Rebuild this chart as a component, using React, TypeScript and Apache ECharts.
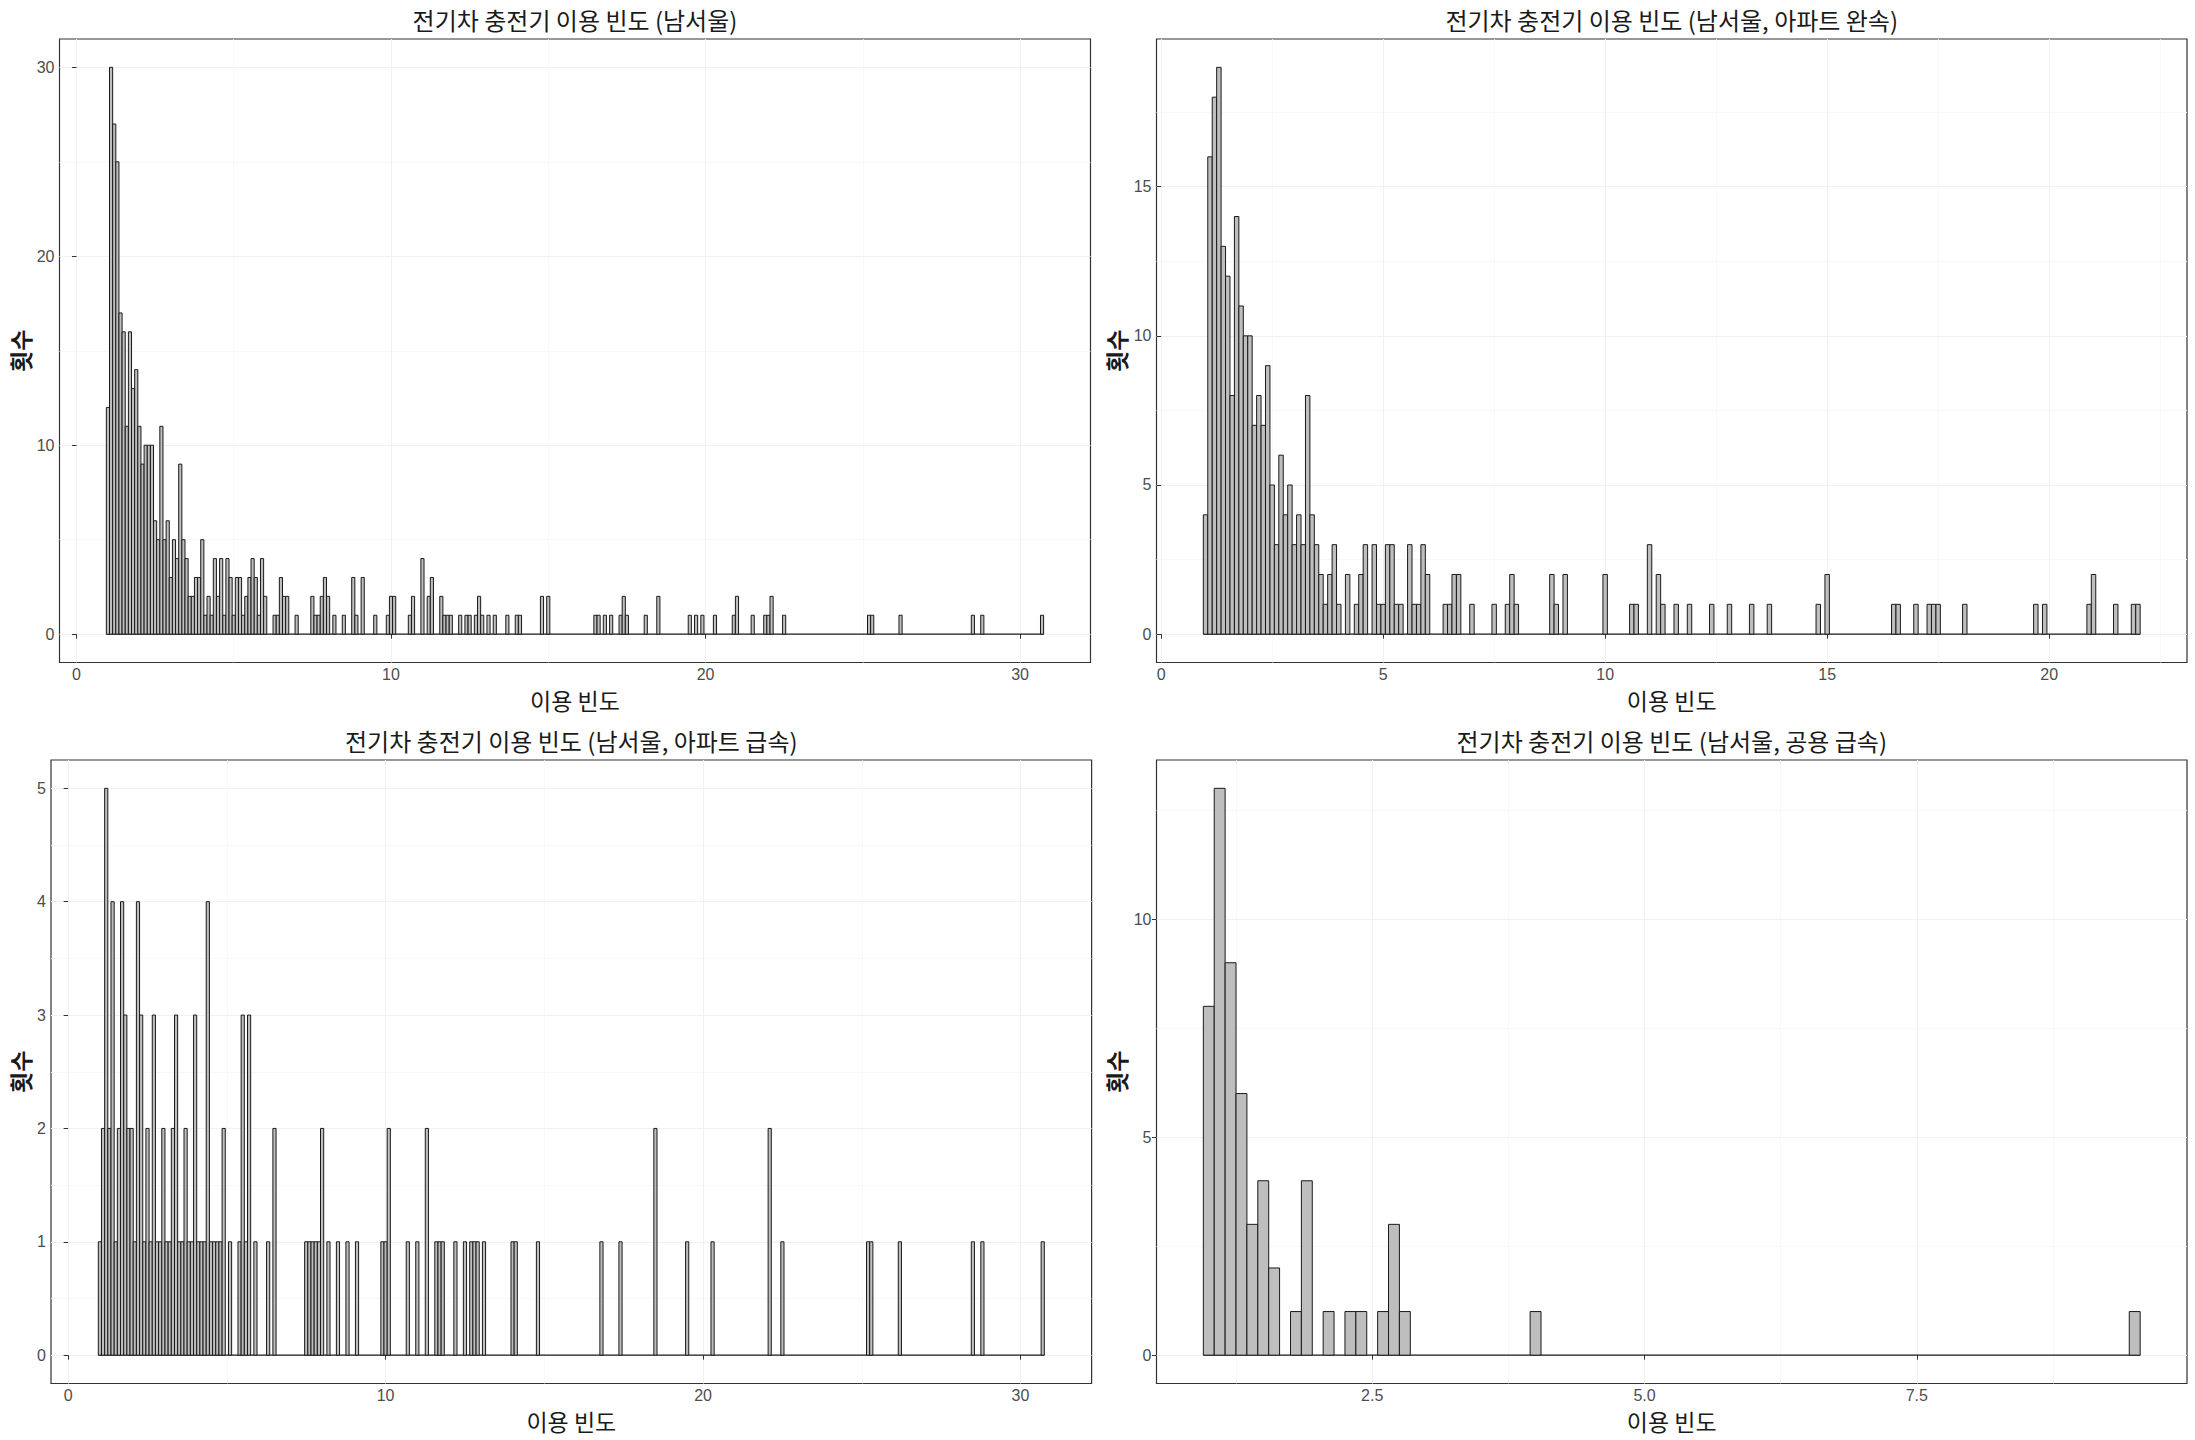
import React, { useEffect, useRef } from "react";
import * as echarts from "echarts";

// ---------- data (histogram counts, bin width 0.1, bins centred on multiples of 0.1) ----------
const BIN_WIDTH = 0.1;
const FIRST_BIN = 1.0;

// 남서울 (all) : consecutive bins from 1.0 to 7.0
const allHeadCounts = [
  12, 30, 27, 25, 17, 16, 11, 16, 13, 14,
  11, 9, 10, 10, 10, 6, 5, 11, 5, 6,
  3, 5, 4, 9, 5, 4, 2, 2, 3, 3,
  5, 1, 2, 1, 4, 2, 4, 1, 4, 3,
  1, 3, 3, 1, 2, 3, 4, 3, 1, 4,
  2, 0, 0, 1, 1, 3, 2, 2, 0, 0,
  1,
];
const allTailBins: [number, number][] = [
  [7.5, 2], [7.6, 1], [7.7, 1], [7.8, 2], [7.9, 3], [8.0, 2], [8.2, 1], [8.5, 1],
  [8.8, 3], [8.9, 1], [9.1, 3], [9.5, 1], [9.9, 1], [10.0, 2], [10.1, 2], [10.6, 1],
  [10.7, 2], [11.0, 4], [11.2, 2], [11.3, 3], [11.6, 2], [11.7, 1], [11.8, 1], [11.9, 1],
  [12.2, 1], [12.4, 1], [12.5, 1], [12.7, 1], [12.8, 2], [12.9, 1], [13.1, 1], [13.3, 1],
  [13.7, 1], [14.0, 1], [14.1, 1], [14.8, 2], [15.0, 2], [16.5, 1], [16.6, 1], [16.8, 1],
  [17.0, 1], [17.3, 1], [17.4, 2], [17.5, 1], [18.1, 1], [18.5, 2], [19.5, 1], [19.7, 1],
  [19.9, 1], [20.3, 1], [20.9, 1], [21.0, 2], [21.5, 1], [21.9, 1], [22.0, 1], [22.1, 2],
  [22.5, 1], [25.2, 1], [25.3, 1], [26.2, 1], [28.5, 1], [28.8, 1], [30.7, 1],
];

// 남서울, 아파트 완속 : consecutive bins from 1.0 to 7.0
const aptSlowHeadCounts = [
  4, 16, 18, 19, 13, 12, 8, 14, 11, 10,
  10, 7, 8, 7, 9, 5, 3, 6, 4, 5,
  3, 4, 3, 8, 4, 3, 2, 1, 2, 3,
  1, 0, 2, 0, 1, 2, 3, 0, 3, 1,
  1, 3, 3, 1, 1, 0, 3, 1, 1, 3,
  2, 0, 0, 0, 1, 1, 2, 2, 0, 0,
  1,
];
const aptSlowTailBins: [number, number][] = [
  [7.5, 1], [7.8, 1], [7.9, 2], [8.0, 1], [8.8, 2], [8.9, 1], [9.1, 2], [10.0, 2],
  [10.6, 1], [10.7, 1], [11.0, 3], [11.2, 2], [11.3, 1], [11.6, 1], [11.9, 1], [12.4, 1],
  [12.8, 1], [13.3, 1], [13.7, 1], [14.8, 1], [15.0, 2], [16.5, 1], [16.6, 1], [17.0, 1],
  [17.3, 1], [17.4, 1], [17.5, 1], [18.1, 1], [19.7, 1], [19.9, 1], [20.9, 1], [21.0, 2],
  [21.5, 1], [21.9, 1], [22.0, 1],
];

// 남서울, 아파트 급속 : consecutive bins from 1.0 to 6.5
const aptFastHeadCounts = [
  1, 2, 5, 2, 4, 1, 2, 4, 3, 2,
  2, 1, 4, 3, 1, 2, 1, 3, 1, 1,
  2, 1, 1, 2, 3, 1, 1, 2, 1, 1,
  3, 1, 1, 1, 4, 1, 1, 1, 1, 2,
  0, 1, 0, 0, 1, 3, 1, 3, 0, 1,
  0, 0, 0, 1, 0, 2,
];
const aptFastTailBins: [number, number][] = [
  [7.5, 1], [7.6, 1], [7.7, 1], [7.8, 1], [7.9, 1], [8.0, 2], [8.2, 1], [8.5, 1],
  [8.8, 1], [9.1, 1], [9.9, 1], [10.0, 1], [10.1, 2], [10.7, 1], [11.0, 1], [11.3, 2],
  [11.6, 1], [11.7, 1], [11.8, 1], [12.2, 1], [12.5, 1], [12.7, 1], [12.8, 1], [12.9, 1],
  [13.1, 1], [14.0, 1], [14.1, 1], [14.8, 1], [16.8, 1], [17.4, 1], [18.5, 2], [19.5, 1],
  [20.3, 1], [22.1, 2], [22.5, 1], [25.2, 1], [25.3, 1], [26.2, 1], [28.5, 1], [28.8, 1],
  [30.7, 1],
];

// 남서울, 공용 급속
const pubFastBins: [number, number][] = [
  [1.0, 8], [1.1, 13], [1.2, 9], [1.3, 6], [1.4, 3], [1.5, 4], [1.6, 2], [1.8, 1],
  [1.9, 4], [2.1, 1], [2.3, 1], [2.4, 1], [2.6, 1], [2.7, 3], [2.8, 1], [4.0, 1],
  [9.5, 1],
];

const panelTitles = [
  "전기차 충전기 이용 빈도 (남서울)",
  "전기차 충전기 이용 빈도 (남서울, 아파트 완속)",
  "전기차 충전기 이용 빈도 (남서울, 아파트 급속)",
  "전기차 충전기 이용 빈도 (남서울, 공용 급속)",
];
const xAxisTitle = "이용 빈도";
const yAxisTitle = "횟수";

const xTicks = [[0, 10, 20, 30], [0, 5, 10, 15, 20], [0, 10, 20, 30], [2.5, 5.0, 7.5]];
const xMinorTicks = [[5, 15, 25], [2.5, 7.5, 12.5, 17.5, 22.5], [5, 15, 25], [1.25, 3.75, 6.25, 8.75]];
const yTicks = [[0, 10, 20, 30], [0, 5, 10, 15], [0, 1, 2, 3, 4, 5], [0, 5, 10]];
const yMinorTicks = [[5, 15, 25], [2.5, 7.5, 12.5, 17.5], [0.5, 1.5, 2.5, 3.5, 4.5], [2.5, 7.5, 12.5]];

// ---------- helpers ----------
function buildBins(head: number[], tail: [number, number][]): [number, number][] {
  const out: [number, number][] = [];
  head.forEach((c, i) => {
    if (c > 0) out.push([Math.round((FIRST_BIN + i * BIN_WIDTH) * 10) / 10, c]);
  });
  return out.concat(tail);
}

const panelBins = [
  buildBins(allHeadCounts, allTailBins),
  buildBins(aptSlowHeadCounts, aptSlowTailBins),
  buildBins(aptFastHeadCounts, aptFastTailBins),
  pubFastBins,
];

// layout (pixels)
const layouts = [
  { left: 59.5, top: 39, width: 1031, height: 623.5, yTitleX: 19.6 },
  { left: 1156.5, top: 39, width: 1030.5, height: 623.5, yTitleX: 1115.8 },
  { left: 51, top: 760, width: 1040.6, height: 623.5, yTitleX: 19.6 },
  { left: 1156.5, top: 760, width: 1030.5, height: 623.5, yTitleX: 1115.8 },
];

const KR_FONT = "'Noto Sans CJK KR', 'Noto Sans', sans-serif";
const NUM_FONT = "'Liberation Sans', Arial, sans-serif";

function buildOption() {
  const grid: any[] = [];
  const xAxis: any[] = [];
  const yAxis: any[] = [];
  const series: any[] = [];
  const minorX: any[] = [];
  const minorY: any[] = [];
  const texts: any[] = [];

  panelBins.forEach((bins, i) => {
    const L = layouts[i];
    const xs = bins.map((b) => b[0]);
    const lo = Math.min(...xs) - BIN_WIDTH / 2;
    const hi = Math.max(...xs) + BIN_WIDTH / 2;
    const padX = 0.05 * (hi - lo);
    const maxC = Math.max(...bins.map((b) => b[1]));
    const padY = 0.05 * maxC;

    grid.push({
      left: L.left,
      top: L.top,
      width: L.width,
      height: L.height,
      show: true,
      borderColor: "#333333",
      borderWidth: 1.2,
      backgroundColor: "transparent",
      containLabel: false,
    });

    const fmt = i === 3 ? (v: number) => v.toFixed(1) : (v: number) => String(v);

    xAxis.push({
      type: "value",
      gridIndex: i,
      min: lo - padX,
      max: hi + padX,
      axisLine: { show: false },
      axisTick: {
        show: true,
        length: 4.5,
        lineStyle: { color: "#333333", width: 1 },
        customValues: xTicks[i],
      },
      axisLabel: {
        show: true,
        customValues: xTicks[i],
        formatter: fmt,
        color: "#4d4d4d",
        fontSize: 16,
        fontFamily: NUM_FONT,
        margin: 4,
      },
      splitLine: { show: true, lineStyle: { color: "#f1f1f1", width: 1.1 } },
    });
    yAxis.push({
      type: "value",
      gridIndex: i,
      min: -padY,
      max: maxC + padY,
      axisLine: { show: false },
      axisTick: {
        show: true,
        length: 4.5,
        lineStyle: { color: "#333333", width: 1 },
        customValues: yTicks[i],
      },
      axisLabel: {
        show: true,
        customValues: yTicks[i],
        color: "#4d4d4d",
        fontSize: 16,
        fontFamily: NUM_FONT,
        margin: 5,
      },
      splitLine: { show: true, lineStyle: { color: "#f1f1f1", width: 1.1 } },
    });
    minorX.push({
      type: "value",
      gridIndex: i,
      min: lo - padX,
      max: hi + padX,
      axisLine: { show: false },
      axisTick: { show: false, customValues: xMinorTicks[i] },
      axisLabel: { show: false, customValues: xMinorTicks[i] },
      splitLine: { show: true, lineStyle: { color: "#f6f6f6", width: 0.8 } },
    });
    minorY.push({
      type: "value",
      gridIndex: i,
      min: -padY,
      max: maxC + padY,
      axisLine: { show: false },
      axisTick: { show: false, customValues: yMinorTicks[i] },
      axisLabel: { show: false, customValues: yMinorTicks[i] },
      splitLine: { show: true, lineStyle: { color: "#f6f6f6", width: 0.8 } },
    });

    // baseline of empty bins (drawn by ggplot as zero-height bars)
    series.push({
      type: "custom",
      xAxisIndex: i,
      yAxisIndex: i,
      silent: true,
      z: 3,
      data: [[lo, hi]],
      renderItem: (_p: any, api: any) => {
        const a = api.coord([api.value(0), 0]);
        const b = api.coord([api.value(1), 0]);
        return {
          type: "line",
          shape: { x1: a[0], y1: a[1], x2: b[0], y2: b[1] },
          style: { stroke: "#1a1a1a", lineWidth: 1.1 },
        };
      },
    });
    series.push({
      type: "custom",
      xAxisIndex: i,
      yAxisIndex: i,
      silent: true,
      z: 4,
      data: bins,
      renderItem: (_p: any, api: any) => {
        const x = api.value(0);
        const c = api.value(1);
        const p0 = api.coord([x - BIN_WIDTH / 2, c]);
        const p1 = api.coord([x + BIN_WIDTH / 2, 0]);
        return {
          type: "rect",
          shape: { x: p0[0], y: p0[1], width: p1[0] - p0[0], height: p1[1] - p0[1] },
          style: { fill: "#bebebe", stroke: "#1a1a1a", lineWidth: 1 },
        };
      },
    });

    const cx = L.left + L.width / 2;
    texts.push({
      type: "text",
      x: cx,
      y: L.top - 19.4,
      style: {
        text: panelTitles[i],
        align: "center",
        verticalAlign: "middle",
        fontSize: 24,
        fontFamily: KR_FONT,
        fill: "#1a1a1a",
      },
    });
    texts.push({
      type: "text",
      x: cx,
      y: L.top + L.height + 37,
      style: {
        text: xAxisTitle,
        align: "center",
        verticalAlign: "middle",
        fontSize: 23,
        fontFamily: KR_FONT,
        fill: "#1a1a1a",
      },
    });
    texts.push({
      type: "text",
      x: L.yTitleX,
      y: L.top + L.height / 2,
      rotation: Math.PI / 2,
      style: {
        text: yAxisTitle,
        align: "center",
        verticalAlign: "middle",
        fontSize: 23,
        fontWeight: "bold",
        fontFamily: KR_FONT,
        fill: "#1a1a1a",
      },
    });
  });

  return {
    animation: false,
    backgroundColor: "#ffffff",
    textStyle: { fontFamily: KR_FONT },
    grid,
    xAxis: xAxis.concat(minorX),
    yAxis: yAxis.concat(minorY),
    series,
    graphic: { elements: texts },
  };
}

export default function App() {
  const ref = useRef<HTMLDivElement>(null);
  useEffect(() => {
    document.body.style.margin = "0";
    const chart = echarts.init(ref.current as HTMLDivElement, null, {
      renderer: "svg",
      width: 2195,
      height: 1440,
    });
    chart.setOption(buildOption() as any);
    return () => {
      chart.dispose();
    };
  }, []);
  return <div ref={ref} style={{ width: 2195, height: 1440 }} />;
}
